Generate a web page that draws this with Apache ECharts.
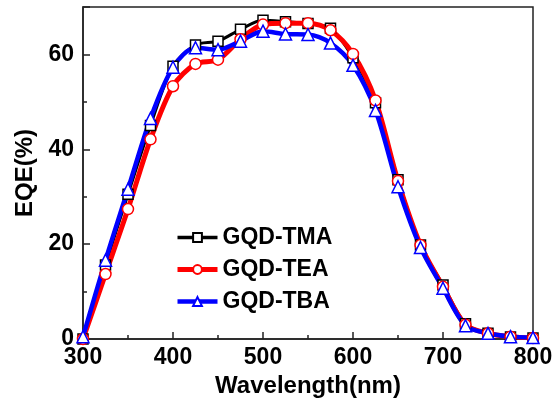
<!DOCTYPE html>
<html>
<head>
<meta charset="utf-8">
<script src="https://cdn.jsdelivr.net/npm/echarts@6/dist/echarts.min.js"></script>
<style>html,body{margin:0;padding:0;background:#fff;}#c{width:557px;height:410px;}</style>
</head>
<body>
<div id="c"></div>
<script>
var wavelength = [300,325,350,375,400,425,450,475,500,525,550,575,600,625,650,675,700,725,750,775,800];
var eqeTMA = [0,15.6,30.5,45.0,57.5,62.0,62.8,65.3,67.2,66.9,66.5,65.5,59.3,49.8,33.6,19.8,11.4,3.2,1.2,0.4,0.2];
var eqeTEA = [0,13.7,27.4,42.1,53.3,58.0,58.9,63.2,66.3,66.6,66.6,65.1,60.1,50.3,33.3,19.8,11.0,3.0,1.2,0.5,0.2];
var eqeTBA = [0.5,16.6,31.6,46.5,57.3,61.4,61.0,62.8,64.9,64.3,64.2,62.4,57.7,48.2,32.1,19.3,10.7,2.8,1.2,0.5,0.3];
var seriesNames = ['GQD-TMA','GQD-TEA','GQD-TBA'];
var xTicks = [300,400,500,600,700,800];
var yTicks = [0,20,40,60];

function pairs(ys){ return wavelength.map(function(x,i){ return [x, ys[i]]; }); }

var font = 'Liberation Sans, Arial, sans-serif';
var chart = echarts.init(document.getElementById('c'));
function mk(name, data, color, symbol, size, width){
  return {
    name: name, type: 'line', data: pairs(data), smooth: 0.3,
    symbol: symbol, symbolSize: size, showAllSymbol: true,
    lineStyle: {color: color, width: width},
    itemStyle: {color: '#fff', borderColor: color, borderWidth: 1.5},
    emphasis: {disabled: true}
  };
}
var legendWidths = [3.5, 5, 4.5];
chart.setOption({
  animation: false,
  grid: {left: 83, right: 24, top: 7, bottom: 71, show: true, borderColor: '#222', borderWidth: 1.5, backgroundColor: 'transparent'},
  legend: {
    orient: 'vertical', left: 170, top: 221, itemWidth: 40, itemHeight: 11, itemGap: 9,
    textStyle: {fontFamily: font, fontWeight: 'bold', fontSize: 23, color: '#000'},
    data: seriesNames.map(function(n, i){ return {name: n, lineStyle: {width: legendWidths[i]}}; })
  },
  xAxis: {
    type: 'value', min: 300, max: 800, interval: 100,
    name: 'Wavelength(nm)', nameLocation: 'middle', nameGap: 33,
    nameTextStyle: {fontFamily: font, fontWeight: 'bold', fontSize: 24, color: '#000'},
    axisLine: {lineStyle: {color: '#222', width: 1.5}},
    axisTick: {inside: true, length: 7, lineStyle: {color: '#222', width: 1.5}},
    minorTick: {show: true, splitNumber: 2, length: 4, lineStyle: {color: '#222', width: 1.5}},
    splitLine: {show: false},
    axisLabel: {fontFamily: font, fontWeight: 'bold', fontSize: 23, color: '#000', margin: 7,
      formatter: function(v){ return xTicks.indexOf(v) >= 0 ? String(v) : ''; }}
  },
  yAxis: {
    type: 'value', min: 0, max: 70, interval: 20,
    name: 'EQE(%)', nameLocation: 'middle', nameGap: 43,
    nameTextStyle: {fontFamily: font, fontWeight: 'bold', fontSize: 24, color: '#000'},
    axisLine: {show: true, lineStyle: {color: '#222', width: 1.5}},
    axisTick: {inside: true, length: 7, lineStyle: {color: '#222', width: 1.5}},
    minorTick: {show: true, splitNumber: 2, length: 4, lineStyle: {color: '#222', width: 1.5}},
    splitLine: {show: false},
    axisLabel: {fontFamily: font, fontWeight: 'bold', fontSize: 23, color: '#000', margin: 9, showMaxLabel: false,
      formatter: function(v){ return yTicks.indexOf(v) >= 0 ? String(v) : ''; }}
  },
  series: [
    mk(seriesNames[0], eqeTMA, '#000000', 'rect', 10, 3),
    mk(seriesNames[1], eqeTEA, '#ff0000', 'circle', 11, 5),
    mk(seriesNames[2], eqeTBA, '#0000ff', 'triangle', 12, 4.5)
  ]
});
</script>
</body>
</html>
